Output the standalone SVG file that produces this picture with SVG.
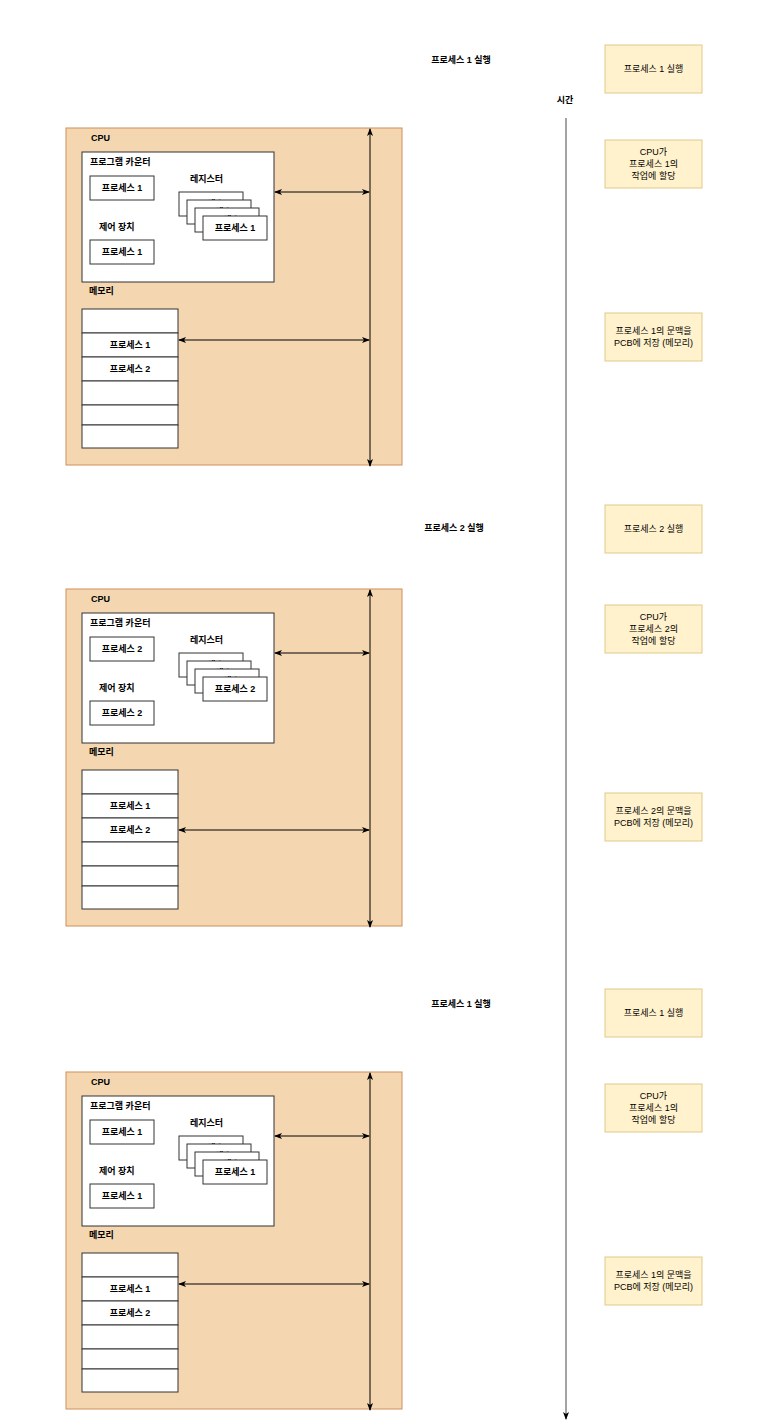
<svg xmlns="http://www.w3.org/2000/svg" width="784" height="1420" viewBox="0 0 784 1420">
<defs>
<style>
text{font-family:"Liberation Sans","Noto Sans CJK KR",sans-serif;font-size:9px;fill:#000;dominant-baseline:central}
.b{font-weight:bold}
.c{text-anchor:middle}
.panel{fill:#f4d7b0;stroke:#d0905a;stroke-width:1}
.w{fill:#fff;stroke:#333;stroke-width:1}
.note{fill:#fff2cc;stroke:#e0c98a;stroke-width:1}
.ln{stroke:#000;stroke-width:1;fill:none}
.tl{stroke:#666;stroke-width:1.2;fill:none}
</style>
<marker id="ah" viewBox="0 0 8 6" refX="7" refY="3" markerWidth="8" markerHeight="6" markerUnits="userSpaceOnUse" orient="auto-start-reverse">
<path d="M0,0 L8,3 L0,6 L2,3 z" fill="#000"/>
</marker>
</defs>
<rect width="784" height="1420" fill="#fff"/>

<g id="panel1">
<rect class="panel" x="66" y="128" width="336" height="337"/>
<text class="b" x="91" y="138">CPU</text>
<rect class="w" x="82" y="152" width="192" height="130"/>
<text class="b" x="90" y="162">프로그램 카운터</text>
<rect class="w" x="90" y="176" width="64" height="24"/>
<text class="b c" x="122" y="188">프로세스 1</text>
<text class="b" x="190" y="179">레지스터</text>
<rect class="w" x="179" y="192" width="64" height="24"/><text class="b c" x="211" y="204">프로세스 1</text>
<rect class="w" x="187" y="200" width="64" height="24"/><text class="b c" x="219" y="212">프로세스 1</text>
<rect class="w" x="195" y="208" width="64" height="24"/><text class="b c" x="227" y="220">프로세스 1</text>
<rect class="w" x="203" y="216" width="64" height="24"/><text class="b c" x="235" y="228">프로세스 1</text>
<text class="b" x="99" y="227">제어 장치</text>
<rect class="w" x="90" y="240" width="64" height="24"/>
<text class="b c" x="122" y="252">프로세스 1</text>
<text class="b" x="89" y="291">메모리</text>
<rect class="w" x="82" y="309" width="96" height="24"/>
<rect class="w" x="82" y="333" width="96" height="24"/><text class="b c" x="130" y="345">프로세스 1</text>
<rect class="w" x="82" y="357" width="96" height="24"/><text class="b c" x="130" y="369">프로세스 2</text>
<rect class="w" x="82" y="381" width="96" height="24"/>
<rect class="w" x="82" y="405" width="96" height="20"/>
<rect class="w" x="82" y="425" width="96" height="23"/>
</g>

<g id="panel2">
<rect class="panel" x="66" y="589" width="336" height="337"/>
<text class="b" x="91" y="599">CPU</text>
<rect class="w" x="82" y="613" width="192" height="130"/>
<text class="b" x="90" y="623">프로그램 카운터</text>
<rect class="w" x="90" y="637" width="64" height="24"/>
<text class="b c" x="122" y="649">프로세스 2</text>
<text class="b" x="190" y="640">레지스터</text>
<rect class="w" x="179" y="653" width="64" height="24"/><text class="b c" x="211" y="665">프로세스 2</text>
<rect class="w" x="187" y="661" width="64" height="24"/><text class="b c" x="219" y="673">프로세스 2</text>
<rect class="w" x="195" y="669" width="64" height="24"/><text class="b c" x="227" y="681">프로세스 2</text>
<rect class="w" x="203" y="677" width="64" height="24"/><text class="b c" x="235" y="689">프로세스 2</text>
<text class="b" x="99" y="688">제어 장치</text>
<rect class="w" x="90" y="701" width="64" height="24"/>
<text class="b c" x="122" y="713">프로세스 2</text>
<text class="b" x="89" y="752">메모리</text>
<rect class="w" x="82" y="770" width="96" height="24"/>
<rect class="w" x="82" y="794" width="96" height="24"/><text class="b c" x="130" y="806">프로세스 1</text>
<rect class="w" x="82" y="818" width="96" height="24"/><text class="b c" x="130" y="830">프로세스 2</text>
<rect class="w" x="82" y="842" width="96" height="24"/>
<rect class="w" x="82" y="866" width="96" height="20"/>
<rect class="w" x="82" y="886" width="96" height="23"/>
</g>

<g id="panel3">
<rect class="panel" x="66" y="1072" width="336" height="337"/>
<text class="b" x="91" y="1082">CPU</text>
<rect class="w" x="82" y="1096" width="192" height="130"/>
<text class="b" x="90" y="1106">프로그램 카운터</text>
<rect class="w" x="90" y="1120" width="64" height="24"/>
<text class="b c" x="122" y="1132">프로세스 1</text>
<text class="b" x="190" y="1123">레지스터</text>
<rect class="w" x="179" y="1136" width="64" height="24"/><text class="b c" x="211" y="1148">프로세스 1</text>
<rect class="w" x="187" y="1144" width="64" height="24"/><text class="b c" x="219" y="1156">프로세스 1</text>
<rect class="w" x="195" y="1152" width="64" height="24"/><text class="b c" x="227" y="1164">프로세스 1</text>
<rect class="w" x="203" y="1160" width="64" height="24"/><text class="b c" x="235" y="1172">프로세스 1</text>
<text class="b" x="99" y="1171">제어 장치</text>
<rect class="w" x="90" y="1184" width="64" height="24"/>
<text class="b c" x="122" y="1196">프로세스 1</text>
<text class="b" x="89" y="1235">메모리</text>
<rect class="w" x="82" y="1253" width="96" height="24"/>
<rect class="w" x="82" y="1277" width="96" height="24"/><text class="b c" x="130" y="1289">프로세스 1</text>
<rect class="w" x="82" y="1301" width="96" height="24"/><text class="b c" x="130" y="1313">프로세스 2</text>
<rect class="w" x="82" y="1325" width="96" height="24"/>
<rect class="w" x="82" y="1349" width="96" height="20"/>
<rect class="w" x="82" y="1369" width="96" height="23"/>
</g>

<g id="labels">
<text class="b c" x="461" y="60">프로세스 1 실행</text>
<text class="b c" x="454" y="528">프로세스 2 실행</text>
<text class="b c" x="461" y="1004">프로세스 1 실행</text>
<text class="b c" x="565" y="100">시간</text>
</g>

<g id="notes">
<g id="n1"><rect class="note" x="605" y="45" width="97" height="48"/><text class="c" x="653.5" y="69">프로세스 1 실행</text></g>
<g id="n2"><rect class="note" x="605" y="140" width="97" height="48"/><text class="c" x="653.5" y="152">CPU가</text><text class="c" x="653.5" y="164">프로세스 1의</text><text class="c" x="653.5" y="176">작업에 할당</text></g>
<g id="n3"><rect class="note" x="605" y="313" width="97" height="48"/><text class="c" x="653.5" y="331">프로세스 1의 문맥을</text><text class="c" x="653.5" y="343">PCB에 저장 (메모리)</text></g>
<g id="n4"><rect class="note" x="605" y="505" width="97" height="48"/><text class="c" x="653.5" y="529">프로세스 2 실행</text></g>
<g id="n5"><rect class="note" x="605" y="605" width="97" height="48"/><text class="c" x="653.5" y="617">CPU가</text><text class="c" x="653.5" y="629">프로세스 2의</text><text class="c" x="653.5" y="641">작업에 할당</text></g>
<g id="n6"><rect class="note" x="605" y="793" width="97" height="48"/><text class="c" x="653.5" y="811">프로세스 2의 문맥을</text><text class="c" x="653.5" y="823">PCB에 저장 (메모리)</text></g>
<g id="n7"><rect class="note" x="605" y="989" width="97" height="48"/><text class="c" x="653.5" y="1013">프로세스 1 실행</text></g>
<g id="n8"><rect class="note" x="605" y="1084" width="97" height="48"/><text class="c" x="653.5" y="1096">CPU가</text><text class="c" x="653.5" y="1108">프로세스 1의</text><text class="c" x="653.5" y="1120">작업에 할당</text></g>
<g id="n9"><rect class="note" x="605" y="1257" width="97" height="48"/><text class="c" x="653.5" y="1275">프로세스 1의 문맥을</text><text class="c" x="653.5" y="1287">PCB에 저장 (메모리)</text></g>
</g>

<g id="connectors">
<line class="ln" x1="370" y1="129" x2="370" y2="466" marker-start="url(#ah)" marker-end="url(#ah)"/>
<line class="ln" x1="275" y1="192" x2="369" y2="192" marker-start="url(#ah)" marker-end="url(#ah)"/>
<line class="ln" x1="179" y1="340" x2="369" y2="340" marker-start="url(#ah)" marker-end="url(#ah)"/>
<line class="ln" x1="370" y1="590" x2="370" y2="927" marker-start="url(#ah)" marker-end="url(#ah)"/>
<line class="ln" x1="275" y1="653" x2="369" y2="653" marker-start="url(#ah)" marker-end="url(#ah)"/>
<line class="ln" x1="179" y1="830" x2="369" y2="830" marker-start="url(#ah)" marker-end="url(#ah)"/>
<line class="ln" x1="370" y1="1073" x2="370" y2="1410" marker-start="url(#ah)" marker-end="url(#ah)"/>
<line class="ln" x1="275" y1="1136" x2="369" y2="1136" marker-start="url(#ah)" marker-end="url(#ah)"/>
<line class="ln" x1="179" y1="1284" x2="369" y2="1284" marker-start="url(#ah)" marker-end="url(#ah)"/>
<line class="tl" x1="566" y1="118" x2="566" y2="1419" marker-end="url(#ah)"/>
</g>
</svg>
